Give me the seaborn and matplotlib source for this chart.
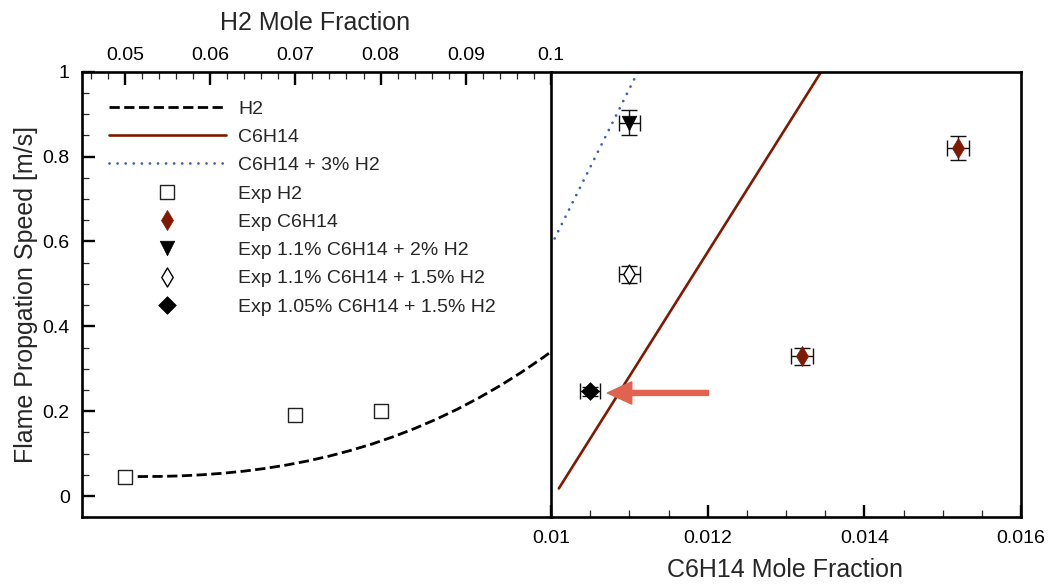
import matplotlib
matplotlib.use("Agg")
import matplotlib.pyplot as plt
from matplotlib.ticker import MultipleLocator
import seaborn as sns

# Model predictions: flame propagation speed [m/s] vs. mole fraction
h2_model_x = [0.0515, 0.054, 0.0565, 0.059, 0.0615, 0.064, 0.0665, 0.069, 0.0715,
              0.074, 0.0765, 0.079, 0.0815, 0.084, 0.0865, 0.089, 0.0915, 0.094,
              0.0965, 0.099, 0.1]
h2_model_v = [0.046, 0.0463, 0.0476, 0.0501, 0.0538, 0.0588, 0.0653, 0.0733, 0.083,
              0.0943, 0.1076, 0.1227, 0.1399, 0.1592, 0.1808, 0.2046, 0.231, 0.2598,
              0.2913, 0.3255, 0.34]
c6_model_x = [0.0101, 0.01345]
c6_model_v = [0.018, 1.0]
mix_model_x = [0.0100, 0.01111]
mix_model_v = [0.59, 1.0]

# Experiments
exp_h2_x = [0.05, 0.07, 0.08]
exp_h2_v = [0.045, 0.19, 0.20]

exp_c6_x = [0.0132, 0.0152]
exp_c6_v = [0.33, 0.82]
exp_c6_xerr = [0.00014, 0.00014]
exp_c6_verr = [0.02, 0.028]

exp_a_x = [0.011]          # 1.1% C6H14 + 2% H2
exp_a_v = [0.88]
exp_a_xerr = [0.00013]
exp_a_verr = [0.03]

exp_b_x = [0.011]          # 1.1% C6H14 + 1.5% H2
exp_b_v = [0.523]
exp_b_xerr = [0.00013]
exp_b_verr = [0.02]

exp_c_x = [0.0105]         # 1.05% C6H14 + 1.5% H2
exp_c_v = [0.247]
exp_c_xerr = [0.00013]
exp_c_verr = [0.01]

# Highlight arrow (tail -> tip) in C6H14 coordinates
arrow_tail = (0.01201, 0.243)
arrow_tip = (0.01072, 0.243)

h2_ticks = [0.05, 0.06, 0.07, 0.08, 0.09, 0.1]
c6_ticks = [0.01, 0.012, 0.014, 0.016]
speed_ticks = [0, 0.2, 0.4, 0.6, 0.8, 1]

labels = ["H2", "C6H14", "C6H14 + 3% H2", "Exp H2", "Exp C6H14",
          "Exp 1.1% C6H14 + 2% H2", "Exp 1.1% C6H14 + 1.5% H2",
          "Exp 1.05% C6H14 + 1.5% H2"]

sns.set_theme(style="ticks")
plt.rcParams["font.family"] = ["Liberation Sans", "DejaVu Sans"]

RED = "#7f1a00"
BLUE = "#3b63a6"
ARROW = "#e0624f"

W, H = 1052, 584
fig = plt.figure(figsize=(W / 100, H / 100), dpi=100)
fig.patch.set_facecolor("white")
x0, xm, x1 = 82.3, 551.0, 1021.0
ytop, ybot = 71.7, 517.3
axL = fig.add_axes([x0 / W, 1 - ybot / H, (xm - x0) / W, (ybot - ytop) / H])
axR = fig.add_axes([xm / W, 1 - ybot / H, (x1 - xm) / W, (ybot - ytop) / H], sharey=axL)

# Left panel: H2 mixtures (top axis)
sns.lineplot(x=h2_model_x, y=h2_model_v, ax=axL, color="black", lw=2.0,
             linestyle="--", sort=False)
h_h2_line = axL.lines[-1]
sns.scatterplot(x=exp_h2_x, y=exp_h2_v, ax=axL, marker="s", s=110,
                color="white", edgecolor="#222222", linewidth=1.0, zorder=4)
h_h2_exp = axL.collections[-1]

# Right panel: C6H14 mixtures (bottom axis)
sns.lineplot(x=c6_model_x, y=c6_model_v, ax=axR, color=RED, lw=1.9, sort=False)
h_c6_line = axR.lines[-1]
sns.lineplot(x=mix_model_x, y=mix_model_v, ax=axR, color=BLUE, lw=2.0,
             linestyle=(0, (0.01, 2.9)), dash_capstyle="round", sort=False)
h_mix_line = axR.lines[-1]

err_kw = dict(fmt="none", ecolor="#111111", elinewidth=1.0, capsize=5.5,
              capthick=1.0, zorder=3)
axR.errorbar(exp_c6_x, exp_c6_v, xerr=exp_c6_xerr, yerr=exp_c6_verr, **err_kw)
axR.errorbar(exp_a_x, exp_a_v, xerr=exp_a_xerr, yerr=exp_a_verr, **err_kw)
axR.errorbar(exp_b_x, exp_b_v, xerr=exp_b_xerr, yerr=exp_b_verr, **err_kw)
axR.errorbar(exp_c_x, exp_c_v, xerr=exp_c_xerr, yerr=exp_c_verr, **err_kw)

sns.scatterplot(x=exp_c6_x, y=exp_c6_v, ax=axR, marker="d", s=104,
                color=RED, edgecolor=RED, linewidth=0.5, zorder=4)
h_c6_exp = axR.collections[-1]
sns.scatterplot(x=exp_a_x, y=exp_a_v, ax=axR, marker="v", s=110,
                color="black", edgecolor="black", linewidth=0.5, zorder=4)
h_a = axR.collections[-1]
sns.scatterplot(x=exp_b_x, y=exp_b_v, ax=axR, marker="d", s=94,
                color="white", edgecolor="black", linewidth=1.0, zorder=4)
h_b = axR.collections[-1]
sns.scatterplot(x=exp_c_x, y=exp_c_v, ax=axR, marker="D", s=81,
                color="black", edgecolor="black", linewidth=0.5, zorder=4)
h_c = axR.collections[-1]

axR.annotate("", xy=arrow_tip, xytext=arrow_tail,
             arrowprops=dict(arrowstyle="simple,head_length=1.75,head_width=1.6,tail_width=0.36",
                             color=ARROW, mutation_scale=10, shrinkA=0, shrinkB=0),
             zorder=5)

# Limits and ticks
axL.set_xlim(0.045, 0.1)
axR.set_xlim(0.01, 0.016)
axL.set_ylim(-0.05, 1.0)

fmt = lambda v: f"{v:g}"
axL.set_xticks(h2_ticks, [fmt(v) for v in h2_ticks])
axL.xaxis.set_minor_locator(MultipleLocator(0.002))
axR.set_xticks(c6_ticks, [fmt(v) for v in c6_ticks])
axR.xaxis.set_minor_locator(MultipleLocator(0.0005))
axL.set_yticks(speed_ticks, [fmt(v) for v in speed_ticks])
axL.yaxis.set_minor_locator(MultipleLocator(0.05))

for ax in (axL, axR):
    ax.set_facecolor("white")
    ax.tick_params(which="major", direction="in", length=9, width=1.7,
                   labelsize=14, colors="black")
    ax.tick_params(which="minor", direction="in", length=4.7, width=0.9)
    for sp in ax.spines.values():
        sp.set_linewidth(1.9)
        sp.set_color("black")
    ax.set_xlabel("")
    ax.set_ylabel("")

axL.tick_params(axis="x", which="both", top=True, bottom=False,
                labeltop=True, labelbottom=False)
axL.tick_params(axis="x", which="major", pad=5.5)
axL.tick_params(axis="y", which="both", left=True, right=False, pad=9)
axL.spines["right"].set_visible(False)

axR.tick_params(axis="x", which="both", top=False, bottom=True,
                labelbottom=True, labeltop=False)
axR.tick_params(axis="x", which="major", pad=9.5)
axR.tick_params(axis="y", which="both", left=False, right=False,
                labelleft=False, labelright=False)

# Axis titles
fig.text(315 / W, 1 - 30 / H, "H2 Mole Fraction", ha="center", va="baseline",
         fontsize=18)
fig.text(785 / W, 1 - 577 / H, "C6H14 Mole Fraction", ha="center", va="baseline",
         fontsize=18)
fig.text(26 / W, 1 - 294.5 / H, "Flame Propgation Speed [m/s]", ha="center",
         va="center", rotation=90, fontsize=18)

handles = [h_h2_line, h_c6_line, h_mix_line, h_h2_exp, h_c6_exp, h_a, h_b, h_c]
leg = axL.legend(handles, labels, loc="upper left",
                 bbox_to_anchor=((109 - x0) / (xm - x0), (ybot - 100) / (ybot - ytop)),
                 frameon=False, fontsize=14, handlelength=6.0, handletextpad=0.65,
                 labelspacing=0.55, borderpad=0, borderaxespad=0,
                 scatterpoints=1, scatteryoffsets=[0.5])

fig.savefig("out.png", dpi=100, facecolor="white")
